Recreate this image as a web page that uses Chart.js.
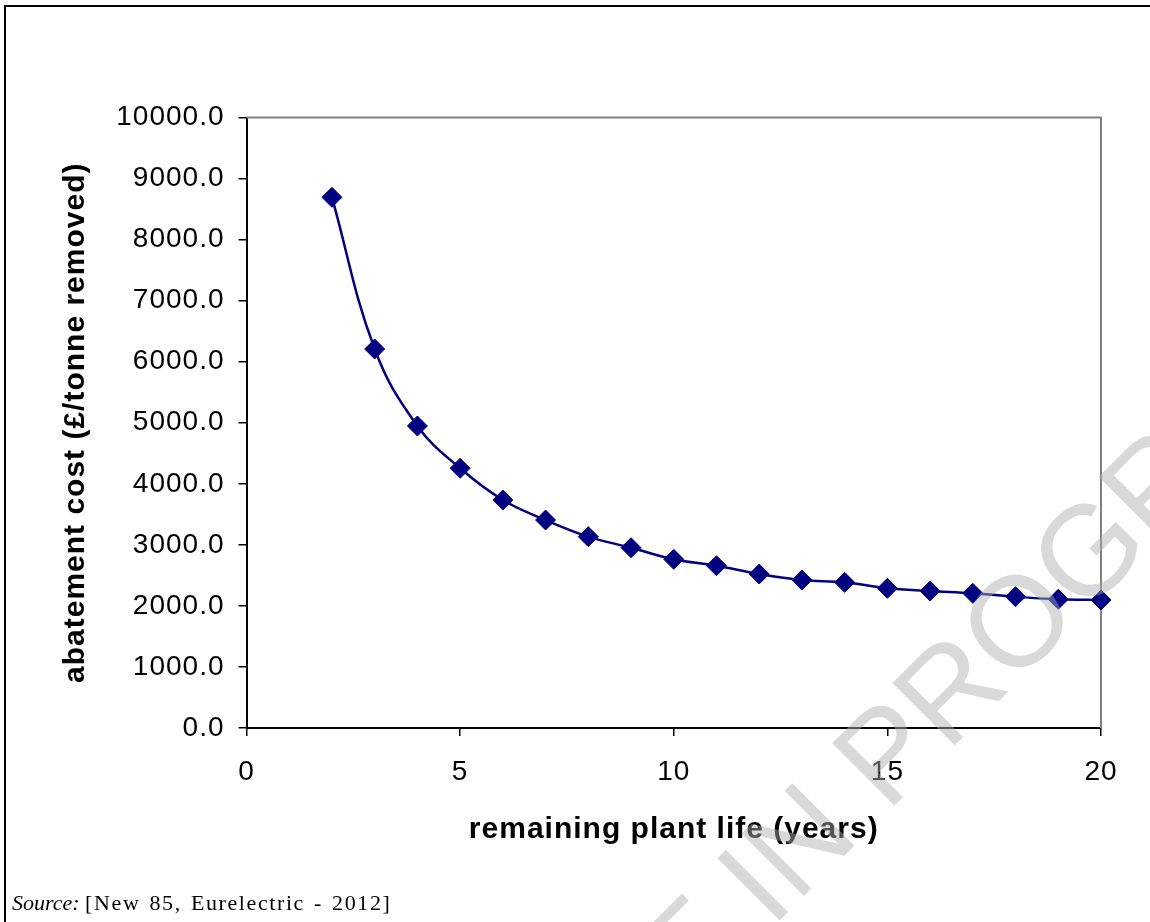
<!DOCTYPE html>
<html>
<head>
<meta charset="utf-8">
<script src="https://cdn.jsdelivr.net/npm/chart.js@4.4.1/dist/chart.umd.min.js"></script>
<style>
    html, body { margin: 0; padding: 0; background: #fff; overflow: hidden; }
    #page { position: relative; width: 1150px; height: 922px; overflow: hidden; }
    #frame { position: absolute; left: 4px; top: 5px; width: 1300px; height: 1100px; border-left: 2px solid #000; border-top: 2px solid #000; }
    #myChart { position: absolute; left: 0; top: 0; }
    #source { position: absolute; left: 12px; top: 892px; font: 22px 'Liberation Serif', 'Times New Roman', serif; line-height: 1; white-space: nowrap; color: #000; }
    #source span { letter-spacing: 1.6px; word-spacing: 2px; }
</style>
</head>
<body>
<div id="page">
    <div id="frame"></div>
    <canvas id="myChart" width="1150" height="922"></canvas>
    <div id="source"><i>Source:</i> <span>[New 85, Eurelectric - 2012]</span></div>
</div>
<script>
// remaining plant life (years) and abatement cost (GBP / tonne removed)
const years = [2, 3, 4, 5, 6, 7, 8, 9, 10, 11, 12, 13, 14, 15, 16, 17, 18, 19, 20];
const cost = [8693, 6208, 4947, 4254, 3735, 3407, 3134, 2953, 2763, 2658, 2522, 2424, 2386, 2288, 2244, 2206, 2151, 2108, 2097];
const xTicks = [0, 5, 10, 15, 20];
const yTicks = [0, 1000, 2000, 3000, 4000, 5000, 6000, 7000, 8000, 9000, 10000];

document.addEventListener('DOMContentLoaded', function() {
    const ctx = document.getElementById('myChart').getContext('2d');

    Chart.defaults.font.family = "'Liberation Sans', Arial, sans-serif";
    Chart.defaults.color = '#000000';

    // excel-ish text tracking
    const spacing = {
        id: 'spacing',
        beforeUpdate: function(chart) { chart.ctx.letterSpacing = '1px'; },
        beforeDraw: function(chart) { chart.ctx.letterSpacing = '1px'; }
    };

    // grey top / right edge of the plot area
    const plotFrame = {
        id: 'plotFrame',
        beforeDatasetsDraw: function(chart) {
            const c = chart.ctx, a = chart.chartArea;
            c.save();
            c.strokeStyle = '#808080';
            c.lineWidth = 2;
            c.beginPath();
            c.moveTo(a.left, a.top);
            c.lineTo(a.right, a.top);
            c.lineTo(a.right, a.bottom);
            c.stroke();
            c.restore();
        }
    };

    // page watermark, baseline starts at the "P"
    const markX = 887, markY = 813;
    const watermark = {
        id: 'watermark',
        afterDraw: function(chart) {
            const c = chart.ctx;
            c.save();
            c.letterSpacing = '0px';
            c.translate(markX, markY);
            c.rotate(-Math.PI / 4);
            c.font = "128px 'Liberation Sans', Arial, sans-serif";
            c.fillStyle = 'rgba(175, 175, 175, 0.47)';
            c.textBaseline = 'alphabetic';
            c.textAlign = 'right';
            c.fillText('DRAFT IN ', 0, 0);
            c.textAlign = 'left';
            c.fillText('PROGRESS', 0, 0);
            c.restore();
        }
    };

    new Chart(ctx, {
        type: 'line',
        data: {
            datasets: [{
                data: years.map(function(y, i) { return { x: y, y: cost[i] }; }),
                borderColor: '#000080',
                borderWidth: 2.5,
                tension: 0.4,
                fill: false,
                clip: false,
                pointStyle: 'rectRot',
                pointRadius: 10,
                pointBackgroundColor: '#000080',
                pointBorderColor: '#000080',
                pointBorderWidth: 1
            }]
        },
        options: {
            responsive: false,
            animation: false,
            layout: { padding: { top: 117.5, right: 49, bottom: 0, left: 0 } },
            scales: {
                x: {
                    type: 'linear',
                    min: 0,
                    max: 20,
                    afterBuildTicks: function(s) { s.ticks = xTicks.map(function(v) { return { value: v }; }); },
                    afterFit: function(s) { s.height = 194; },
                    ticks: { padding: 19, font: { size: 28 }, color: '#000' },
                    grid: { drawOnChartArea: false, tickLength: 8, color: '#000', lineWidth: 1.5 },
                    border: { color: '#000', width: 2 },
                    title: {
                        display: true,
                        text: 'remaining plant life (years)',
                        color: '#000',
                        font: { size: 30, weight: 'bold' },
                        padding: { top: 0, bottom: 74 }
                    }
                },
                y: {
                    min: 0,
                    max: 10000,
                    afterBuildTicks: function(s) { s.ticks = yTicks.map(function(v) { return { value: v }; }); },
                    afterFit: function(s) { s.width = 246.5; },
                    ticks: {
                        padding: 14,
                        font: { size: 28 },
                        color: '#000',
                        callback: function(v) { return v.toFixed(1); }
                    },
                    grid: { drawOnChartArea: false, tickLength: 8, color: '#000', lineWidth: 1.5 },
                    border: { color: '#000', width: 2 },
                    title: {
                        display: true,
                        text: 'abatement cost (£/tonne removed)',
                        color: '#000',
                        font: { size: 30, weight: 'bold' },
                        padding: { top: 58, bottom: 0 }
                    }
                }
            },
            plugins: {
                legend: { display: false },
                tooltip: { enabled: false }
            }
        },
        plugins: [spacing, plotFrame, watermark]
    });
});
</script>
</body>
</html>
